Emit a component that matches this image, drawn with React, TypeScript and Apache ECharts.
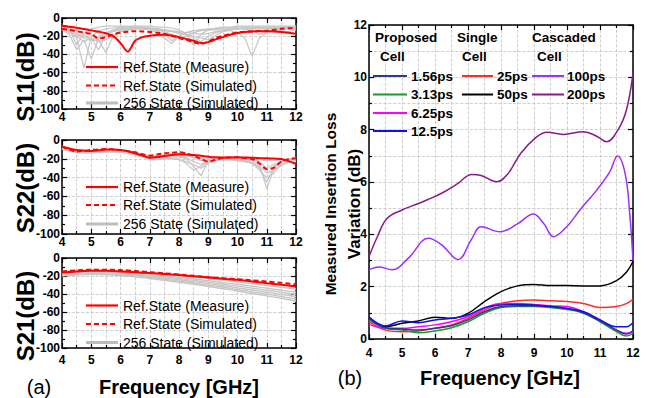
import React, { useEffect, useRef } from 'react';
import * as echarts from 'echarts';

const FONT = '"Liberation Sans", Arial, Helvetica, sans-serif';

// ---------- Left panels (a) ----------
const FREQ_L = [4, 4.25, 4.5, 4.75, 5, 5.25, 5.5, 5.75, 6, 6.25, 6.5, 6.75, 7, 7.25, 7.5, 7.75, 8, 8.25, 8.5, 8.75, 9, 9.25, 9.5, 9.75, 10, 10.25, 10.5, 10.75, 11, 11.25, 11.5, 11.75, 12];
const FREQ_H = [4, 4.5, 5, 5.5, 6, 6.5, 7, 7.5, 8, 8.5, 9, 9.5, 10, 10.5, 11, 11.5, 12];

const S11_MEAS = [-8.5, -9.5, -10.8, -12, -13.6, -15, -16.8, -20, -27.5, -37, -25, -21, -19.5, -18.6, -18.4, -19.3, -21, -23, -25, -27.5, -26.5, -23.5, -21, -18.5, -16.5, -15.3, -14.7, -14.5, -14.5, -14.8, -15.4, -16.3, -17.3];
const S11_SIM = [-12, -13, -14.5, -16, -17.6, -22.5, -21, -18, -16, -15, -14.5, -14.8, -15.4, -16.3, -17.3, -19.5, -22, -24, -26.5, -28.5, -25.7, -22, -19.5, -17.5, -15.8, -15, -14.7, -14.3, -14, -13, -11.8, -11.3, -11];
const S11_G1 = [-8, -12, -30, -16, -12, -10, -9, -9, -9, -9, -9, -9, -9, -10, -10, -11, -13, -17, -30, -18, -13, -11, -10, -10, -9, -9, -9, -9, -9, -9, -9, -9, -9];
const S11_G2 = [-10, -14, -22, -55, -20, -14, -12, -11, -10, -10, -10, -11, -12, -13, -15, -18, -22, -20, -16, -14, -13, -12, -11, -11, -10, -10, -10, -10, -10, -10, -10, -10, -10];
const S11_G3 = [-12, -16, -20, -26, -22, -35, -18, -14, -12, -11, -11, -11, -12, -14, -18, -25, -20, -16, -14, -13, -12, -12, -11, -11, -11, -12, -14, -18, -15, -12, -11, -10, -10];
const S11_G4 = [-11, -15, -18, -22, -25, -24, -38, -20, -15, -13, -12, -12, -12, -13, -14, -15, -17, -19, -22, -26, -20, -16, -14, -13, -12, -12, -12, -12, -12, -11, -11, -11, -11];
const S11_G5 = [-9, -11, -14, -18, -24, -20, -16, -13, -11, -10, -10, -10, -11, -12, -13, -14, -15, -16, -17, -18, -17, -15, -14, -14, -16, -22, -42, -22, -16, -14, -13, -12, -12];
const S11_G6 = [-13, -18, -35, -24, -45, -22, -17, -15, -13, -12, -11, -11, -11, -12, -13, -14, -16, -18, -20, -22, -24, -19, -15, -13, -12, -11, -11, -11, -10, -10, -10, -10, -10];
const S11_G7 = [-10, -13, -17, -20, -23, -26, -24, -19, -15, -13, -12, -12, -13, -16, -22, -28, -20, -16, -14, -13, -13, -13, -13, -12, -12, -11, -11, -11, -11, -12, -14, -15, -13];

const S22_MEAS = [-7, -9, -10.6, -11.3, -11.7, -11, -10, -10, -10.6, -12, -14.2, -16.5, -18.8, -18.2, -17, -16, -15.2, -15.4, -16, -16.8, -17.7, -18.4, -18.8, -18.6, -18.4, -18.6, -18.8, -19.2, -19.5, -19.8, -20.2, -22.5, -25.5];
const S22_SIM = [-7, -10, -12.4, -11.5, -10.6, -10, -9.6, -10, -10.6, -11.8, -13.1, -15, -16.7, -15.5, -14.2, -13.5, -13.1, -14.5, -16.7, -20, -23, -21, -18.8, -18.5, -18.4, -19.2, -20.2, -25, -31, -29.5, -23, -20.5, -19.5];
const S22_G1 = [-8, -10, -11, -12, -12, -12, -11, -11, -11, -12, -14, -16, -18, -18, -17, -16, -16, -17, -19, -22, -20, -19, -19, -19, -19, -20, -20, -21, -22, -22, -21, -20, -20];
const S22_G2 = [-9, -11, -12, -13, -13, -12, -12, -12, -12, -13, -15, -17, -19, -19, -18, -18, -18, -20, -28, -38, -22, -20, -20, -20, -21, -22, -24, -30, -45, -28, -22, -21, -21];
const S22_G3 = [-8, -10, -12, -12, -12, -11, -11, -11, -12, -13, -14, -16, -17, -17, -16, -16, -17, -19, -23, -26, -22, -19, -18, -19, -20, -21, -22, -26, -52, -30, -23, -21, -20];
const S22_G4 = [-9, -11, -13, -13, -13, -13, -12, -12, -13, -14, -16, -18, -20, -20, -19, -19, -20, -25, -32, -28, -23, -21, -21, -21, -22, -23, -25, -32, -40, -35, -26, -23, -22];
const S22_G5 = [-8, -9, -11, -11, -12, -11, -11, -11, -11, -12, -13, -15, -17, -17, -16, -15, -15, -16, -18, -20, -20, -19, -18, -18, -19, -19, -20, -23, -30, -26, -22, -20, -19];
const S22_G6 = [-10, -12, -13, -14, -14, -13, -13, -13, -13, -14, -16, -18, -21, -21, -20, -20, -21, -23, -26, -30, -25, -22, -21, -21, -22, -23, -24, -28, -35, -32, -27, -24, -23];

const S21_MEAS = [-16, -15, -14.2, -14.3, -14.9, -15.8, -16.8, -17.8, -19, -20.3, -21.6, -23, -24.3, -26, -28, -29.8, -31.7];
const S21_SIM = [-14.9, -13.8, -13, -13.1, -13.4, -14.5, -15.7, -17, -18.3, -19.8, -21.3, -22.4, -23.5, -24.8, -26.1, -27.6, -29.1];
const S21_G1 = [-15, -14, -13.5, -13.8, -14.5, -15.5, -16.8, -18, -19.5, -21, -22.8, -24.5, -26.5, -28.5, -30.5, -32.5, -34.5];
const S21_G2 = [-16, -15, -14.5, -14.8, -15.5, -16.8, -18.2, -19.8, -21.5, -23.3, -25.2, -27.2, -29.2, -31.3, -33.5, -35.8, -38];
const S21_G3 = [-17, -16, -15.5, -15.8, -16.5, -17.8, -19.3, -21, -22.8, -24.8, -26.8, -29, -31.2, -33.5, -35.8, -38.2, -40.5];
const S21_G4 = [-18, -17, -16.5, -16.8, -17.6, -18.9, -20.5, -22.3, -24.2, -26.3, -28.5, -30.8, -33.2, -35.6, -38, -40.5, -43];
const S21_G5 = [-19, -18, -17.5, -17.8, -18.6, -20, -21.7, -23.6, -25.6, -27.8, -30.1, -32.5, -35, -37.6, -40.2, -42.8, -45.5];
const S21_G6 = [-20, -19, -18.5, -18.8, -19.6, -21, -22.8, -24.8, -26.9, -29.2, -31.6, -34.1, -36.7, -39.4, -42.1, -44.9, -47.8];

const LEGEND_L = ['Ref.State (Measure)', 'Ref.State (Simulated)', '256 State (Simulated)'];

// ---------- Right panel (b) ----------
const FREQ_R = [4, 4.5, 5, 5.5, 6, 6.5, 7, 7.5, 8, 8.5, 9, 9.5, 10, 10.5, 11, 11.5, 11.8, 12];
const PS_1_56 = [0.79, 0.43, 0.38, 0.34, 0.41, 0.51, 0.73, 1.04, 1.24, 1.27, 1.27, 1.24, 1.17, 1.0, 0.69, 0.34, 0.19, 0.32];
const PS_3_13 = [0.73, 0.41, 0.34, 0.24, 0.31, 0.43, 0.66, 0.98, 1.2, 1.24, 1.24, 1.2, 1.13, 0.98, 0.66, 0.28, 0.11, 0.22];
const PS_6_25 = [0.56, 0.41, 0.41, 0.47, 0.54, 0.66, 0.85, 1.17, 1.36, 1.36, 1.32, 1.27, 1.24, 1.04, 0.73, 0.34, 0.22, 0.28];
const PS_12_5 = [0.85, 0.5, 0.69, 0.62, 0.73, 0.79, 0.92, 1.2, 1.3, 1.32, 1.3, 1.24, 1.17, 1.04, 0.73, 0.47, 0.47, 0.62];
const PS_25 = [0.66, 0.34, 0.28, 0.31, 0.41, 0.54, 0.79, 1.11, 1.36, 1.46, 1.49, 1.46, 1.43, 1.36, 1.2, 1.24, 1.35, 1.52];
const PS_50 = [0.79, 0.47, 0.6, 0.69, 0.83, 0.79, 0.98, 1.43, 1.81, 2.03, 2.08, 2.04, 2.04, 2.03, 2.03, 2.23, 2.55, 2.96];
const FREQ_100 = [4, 4.3, 4.7, 5.2, 5.8, 6.2, 6.7, 7.1, 7.4, 7.97, 8.5, 8.98, 9.3, 9.59, 10, 10.39, 10.9, 11.3, 11.53, 11.76, 11.9, 12];
const PS_100 = [2.64, 2.75, 2.65, 3.1, 3.85, 3.6, 3.04, 3.8, 4.29, 4.1, 4.4, 4.78, 4.4, 3.91, 4.3, 4.93, 5.69, 6.4, 6.99, 6.33, 4.8, 3.0];
const FREQ_200 = [4, 4.25, 4.54, 5, 5.5, 5.75, 6.2, 6.7, 7.11, 7.4, 7.87, 8.2, 8.6, 9.03, 9.4, 9.88, 10.5, 10.9, 11.2, 11.55, 11.8, 12];
const PS_200 = [3.15, 3.9, 4.6, 4.93, 5.18, 5.31, 5.57, 5.95, 6.29, 6.25, 6.01, 6.3, 7.1, 7.67, 7.9, 7.82, 7.92, 7.75, 7.54, 8.0, 8.75, 10.15];

const COLORS_R = {
  p156: '#2b3990', p313: '#1a9a2a', p625: '#ff00ff', p125: '#1010ee',
  p25: '#ff2a2a', p50: '#000000', p100: '#9b30ff', p200: '#8b1a89',
};

const pairs = (xs: number[], ys: number[]) => xs.map((x, i) => [x, ys[i]]);

const GRID_LINE = { type: 'dashed', color: '#c4c4c4', width: 0.8 };

function axesFor(g: number, xr: [number, number, number], yr: [number, number, number], xMargin: number, yMargin: number, ySplitMinor: boolean) {
  const tickStyle = { color: '#000', width: 1.2 };
  const label = { fontSize: 12, fontWeight: 'bold', color: '#000', fontFamily: FONT };
  const line = { show: true, onZero: false, lineStyle: { color: '#000', width: 1.5 } };
  const xBase = { type: 'value', gridIndex: g, min: xr[0], max: xr[1], interval: xr[2], axisLine: line,
    axisTick: { inside: true, length: 5, lineStyle: tickStyle }, minorTick: { show: true, splitNumber: 2, length: 3, lineStyle: tickStyle } };
  const yBase = { type: 'value', gridIndex: g, min: yr[0], max: yr[1], interval: yr[2], axisLine: line,
    axisTick: { inside: true, length: 5, lineStyle: tickStyle }, minorTick: { show: true, splitNumber: 2, length: 3, lineStyle: tickStyle } };
  return {
    xs: [
      { ...xBase, position: 'bottom', axisLabel: { ...label, margin: xMargin }, splitLine: { show: true, lineStyle: GRID_LINE }, minorSplitLine: { show: true, lineStyle: GRID_LINE } },
      { ...xBase, position: 'top', axisLabel: { show: false }, splitLine: { show: false } },
    ],
    ys: [
      { ...yBase, position: 'left', axisLabel: { ...label, margin: yMargin }, splitLine: { show: true, lineStyle: GRID_LINE }, minorSplitLine: { show: ySplitMinor, lineStyle: GRID_LINE } },
      { ...yBase, position: 'right', axisLabel: { show: false }, splitLine: { show: false } },
    ],
  };
}

function lineSeries(g: number, data: number[][], color: string, width: number, dashed = false, smooth: number | boolean = false, z = 2) {
  return {
    type: 'line', xAxisIndex: g * 2, yAxisIndex: g * 2, data, showSymbol: false, symbol: 'none', smooth, z,
    lineStyle: { color, width, type: dashed ? [5, 3] : 'solid' },
  };
}

function leftLegend(rowsY: number[]) {
  const items: any[] = [];
  const styles = [
    { stroke: '#ff0000', lineWidth: 2.2 },
    { stroke: '#ff0000', lineWidth: 2.2, lineDash: [5, 3] },
    { stroke: '#bdbdbd', lineWidth: 3 },
  ];
  rowsY.forEach((y, i) => {
    items.push({ type: 'line', shape: { x1: 86, y1: y, x2: 118, y2: y }, style: styles[i], z: 10 });
    items.push({ type: 'text', x: 123, y, z: 10, style: { text: LEGEND_L[i], fill: '#000', fontSize: 14, fontFamily: FONT, textAlign: 'left', textVerticalAlign: 'middle' } });
  });
  return items;
}

function txt(text: string, x: number, y: number, size: number, bold: boolean, rot = 0, align = 'center') {
  return { type: 'text', x, y, rotation: rot, z: 10, style: { text, fill: '#000', fontSize: size, fontWeight: bold ? 'bold' : 'normal', fontFamily: FONT, textAlign: align, textVerticalAlign: 'middle' } };
}

function rightLegend() {
  const items: any[] = [];
  const cols = [
    { x1: 373, x2: 407, tx: 411, entries: [['1.56ps', COLORS_R.p156], ['3.13ps', COLORS_R.p313], ['6.25ps', COLORS_R.p625], ['12.5ps', COLORS_R.p125]] },
    { x1: 462, x2: 493, tx: 497, entries: [['25ps', COLORS_R.p25], ['50ps', COLORS_R.p50]] },
    { x1: 532, x2: 564, tx: 567, entries: [['100ps', COLORS_R.p100], ['200ps', COLORS_R.p200]] },
  ];
  const rows = [76, 94.5, 113, 131];
  cols.forEach((c) => {
    c.entries.forEach((e, i) => {
      items.push({ type: 'line', shape: { x1: c.x1, y1: rows[i], x2: c.x2, y2: rows[i] }, style: { stroke: e[1], lineWidth: 2 }, z: 10 });
      items.push(txt(e[0], c.tx, rows[i], 13.5, true, 0, 'left'));
    });
  });
  items.push(txt('Proposed', 375, 37, 13.5, true, 0, 'left'));
  items.push(txt('Cell', 380, 56, 13.5, true, 0, 'left'));
  items.push(txt('Single', 457, 37, 13.5, true, 0, 'left'));
  items.push(txt('Cell', 462, 56, 13.5, true, 0, 'left'));
  items.push(txt('Cascaded', 532, 37, 13.5, true, 0, 'left'));
  items.push(txt('Cell', 537, 56, 13.5, true, 0, 'left'));
  return items;
}

export default function App() {
  const ref = useRef<HTMLDivElement>(null);
  useEffect(() => {
    const chart = echarts.init(ref.current!, null, { renderer: 'svg' });
    const a0 = axesFor(0, [4, 12, 1], [-100, 0, 20], 2, 2, false);
    const a1 = axesFor(1, [4, 12, 1], [-100, 0, 20], 2, 2, false);
    const a2 = axesFor(2, [4, 12, 1], [-100, 0, 20], 6, 2, false);
    const a3 = axesFor(3, [4, 12, 1], [0, 12, 2], 8, 2, true);
    const GRAY = '#c6c6c6';
    const series: any[] = [];
    [S11_G1, S11_G2, S11_G3, S11_G4, S11_G5, S11_G6, S11_G7].forEach((g) => series.push(lineSeries(0, pairs(FREQ_L, g), GRAY, 1.2)));
    series.push(lineSeries(0, pairs(FREQ_L, S11_SIM), '#ff0000', 2, true, 0.3, 3));
    series.push(lineSeries(0, pairs(FREQ_L, S11_MEAS), '#ff0000', 2, false, 0.3, 4));
    [S22_G1, S22_G2, S22_G3, S22_G4, S22_G5, S22_G6].forEach((g) => series.push(lineSeries(1, pairs(FREQ_L, g), GRAY, 1.2)));
    series.push(lineSeries(1, pairs(FREQ_L, S22_SIM), '#ff0000', 2, true, 0.3, 3));
    series.push(lineSeries(1, pairs(FREQ_L, S22_MEAS), '#ff0000', 2, false, 0.3, 4));
    [S21_G1, S21_G2, S21_G3, S21_G4, S21_G5, S21_G6].forEach((g) => series.push(lineSeries(2, pairs(FREQ_H, g), GRAY, 1.4, false, 0.3)));
    series.push(lineSeries(2, pairs(FREQ_H, S21_SIM), '#ff0000', 2, true, 0.3, 3));
    series.push(lineSeries(2, pairs(FREQ_H, S21_MEAS), '#ff0000', 2, false, 0.3, 4));
    series.push(lineSeries(3, pairs(FREQ_200, PS_200), COLORS_R.p200, 1.5, false, 0.4));
    series.push(lineSeries(3, pairs(FREQ_100, PS_100), COLORS_R.p100, 1.5, false, 0.4));
    series.push(lineSeries(3, pairs(FREQ_R, PS_50), COLORS_R.p50, 1.5, false, 0.4));
    series.push(lineSeries(3, pairs(FREQ_R, PS_25), COLORS_R.p25, 1.5, false, 0.4));
    series.push(lineSeries(3, pairs(FREQ_R, PS_6_25), COLORS_R.p625, 1.5, false, 0.4));
    series.push(lineSeries(3, pairs(FREQ_R, PS_3_13), COLORS_R.p313, 1.5, false, 0.4));
    series.push(lineSeries(3, pairs(FREQ_R, PS_1_56), COLORS_R.p156, 1.5, false, 0.4));
    series.push(lineSeries(3, pairs(FREQ_R, PS_12_5), COLORS_R.p125, 1.5, false, 0.4));

    const graphics: any[] = [
      ...leftLegend([67, 85.5, 103]),
      ...leftLegend([187, 205, 224]),
      ...leftLegend([305.5, 324, 342.5]),
      ...rightLegend(),
      txt('S11(dB)', 25, 77, 24, true, Math.PI / 2),
      txt('S22(dB)', 25, 188, 24, true, Math.PI / 2),
      txt('S21(dB)', 25, 316, 24, true, Math.PI / 2),
      txt('Measured Insertion Loss', 330, 204, 15.5, true, Math.PI / 2),
      txt('Variation (dB)', 354, 204, 17, true, Math.PI / 2),
      txt('Frequency [GHz]', 179, 387, 20, true),
      txt('(a)', 39, 387, 20, false),
      txt('Frequency [GHz]', 500, 378, 20, true),
      txt('(b)', 350, 378, 20, false),
    ];

    chart.setOption({
      animation: false,
      backgroundColor: '#ffffff',
      grid: [
        { left: 62, top: 18, width: 234, height: 91 },
        { left: 62, top: 140, width: 234, height: 94 },
        { left: 62, top: 258, width: 234, height: 90 },
        { left: 369, top: 25, width: 264, height: 314 },
      ],
      xAxis: [...a0.xs, ...a1.xs, ...a2.xs, ...a3.xs],
      yAxis: [...a0.ys, ...a1.ys, ...a2.ys, ...a3.ys],
      series,
      graphic: graphics,
    });
    return () => chart.dispose();
  }, []);
  return <div ref={ref} style={{ position: 'fixed', left: 0, top: 0, width: 653, height: 398, background: '#fff' }} />;
}
